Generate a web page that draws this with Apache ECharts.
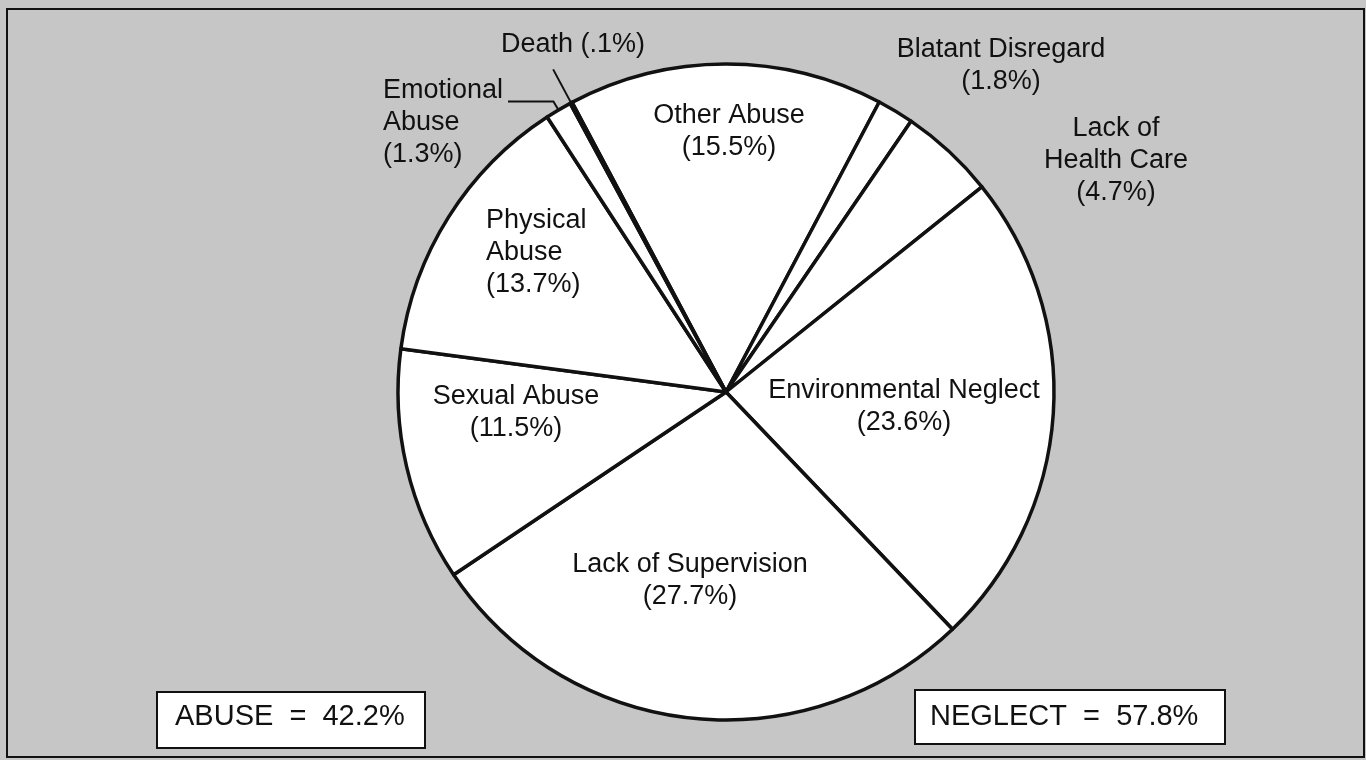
<!DOCTYPE html>
<html>
<head>
<meta charset="utf-8">
<script src="https://cdn.jsdelivr.net/npm/echarts@6/dist/echarts.min.js"></script>
<style>
html,body{margin:0;padding:0;background:#c6c6c6;}
#chart{width:1366px;height:760px;}
</style>
</head>
<body>
<div id="chart"></div>
<script>
// ---- data ----
const categories = ['Other Abuse','Blatant Disregard','Lack of Health Care','Environmental Neglect','Lack of Supervision','Sexual Abuse','Physical Abuse','Emotional Abuse','Death'];
const values = [15.5, 1.8, 4.7, 23.6, 27.7, 11.5, 13.7, 1.3, 0.1];
const displayNames = ['Other Abuse','Blatant Disregard','Lack of\nHealth Care','Environmental Neglect','Lack of Supervision','Sexual Abuse','Physical\nAbuse','Emotional\nAbuse','Death'];
const groupNames = ['ABUSE','NEGLECT'];
const groupTotals = [42.2, 57.8];

// ---- layout / style ----
const FONT = '"Liberation Sans", Arial, Helvetica, sans-serif';
const INK = '#111';
const CX = 726, CY = 392, R = 328, START = 118;
const singleLine = {'Death': true};
const outsideItems = {'Emotional Abuse': true, 'Death': true};
const labelPlace = {
  'Other Abuse':          {x: 729, y: 132},
  'Blatant Disregard':    {x: 1001, y: 66},
  'Lack of Health Care':  {x: 1116, y: 161},
  'Environmental Neglect':{x: 904, y: 407},
  'Lack of Supervision':  {x: 690, y: 581},
  'Sexual Abuse':         {x: 516, y: 413},
  'Physical Abuse':       {x: 486, y: 253, align: 'left'},
  'Emotional Abuse':      {x: 383, y: 123, align: 'left', lead: 10, toX: 508},
  'Death':                {x: 573, y: 45, lead: 38}
};

function fmtPct(v) { return String(v).replace(/^0\./, '.'); }
const total = values.reduce((a, b) => a + b, 0);
function midAngle(i) {
  let cum = 0;
  for (let k = 0; k < i; k++) cum += values[k];
  return (90 - START) + (cum + values[i] / 2) / total * 360;
}
function polar(theta, rad) {
  const t = theta * Math.PI / 180;
  return [CX + rad * Math.sin(t), CY - rad * Math.cos(t)];
}

const chart = echarts.init(document.getElementById('chart'), null, {renderer: 'canvas'});

const boxes = [
  {x: 157, y: 692, w: 268, h: 56, tx: 175, ty: 717},
  {x: 915, y: 690, w: 310, h: 54, tx: 930, ty: 717}
];

const option = {
  backgroundColor: '#c6c6c6',
  animation: false,
  graphic: [
    {type: 'rect', silent: true, z: 0,
     shape: {x: 7, y: 9, width: 1357, height: 748},
     style: {fill: null, stroke: INK, lineWidth: 2}}
  ].concat(groupNames.map((g, i) => ({
    type: 'group', silent: true, z: 10,
    children: [
      {type: 'rect', shape: {x: boxes[i].x, y: boxes[i].y, width: boxes[i].w, height: boxes[i].h},
       style: {fill: '#fff', stroke: INK, lineWidth: 2}},
      {type: 'text', x: boxes[i].tx, y: boxes[i].ty,
       style: {text: g + '  =  ' + groupTotals[i].toFixed(1) + '%', fill: INK, fontSize: 29,
               fontFamily: FONT, align: 'left', verticalAlign: 'middle'}}
    ]
  }))),
  series: [{
    type: 'pie',
    center: [CX, CY],
    radius: R,
    startAngle: START,
    clockwise: true,
    avoidLabelOverlap: false,
    silent: true,
    emphasis: {disabled: true},
    itemStyle: {color: '#fff', borderColor: INK, borderWidth: 3.5},
    label: {
      color: INK, fontFamily: FONT, fontSize: 27, lineHeight: 32,
      formatter: function (p) {
        const nm = displayNames[p.dataIndex];
        const pct = fmtPct(values[p.dataIndex]);
        return singleLine[categories[p.dataIndex]] ? nm + ' (' + pct + '%)' : nm + '\n(' + pct + '%)';
      }
    },
    labelLayout: function (params) {
      const i = params.dataIndex;
      const pl = labelPlace[categories[i]];
      const out = {x: pl.x, y: pl.y, align: pl.align || 'center', verticalAlign: 'middle'};
      if (pl.lead) {
        const th = midAngle(i);
        const p0 = polar(th, R);
        const p1 = polar(th, R + pl.lead);
        const pts = [p0, p1];
        if (pl.toX != null) pts.push([pl.toX, p1[1]]);
        out.labelLinePoints = pts;
      }
      return out;
    },
    data: categories.map((c, i) => ({
      name: c,
      value: values[i],
      label: {position: outsideItems[c] ? 'outside' : 'inside'},
      labelLine: outsideItems[c]
        ? {show: true, length: 10, length2: 30, smooth: false, lineStyle: {color: INK, width: 2}}
        : {show: false}
    }))
  }]
};
chart.setOption(option);
</script>
</body>
</html>
